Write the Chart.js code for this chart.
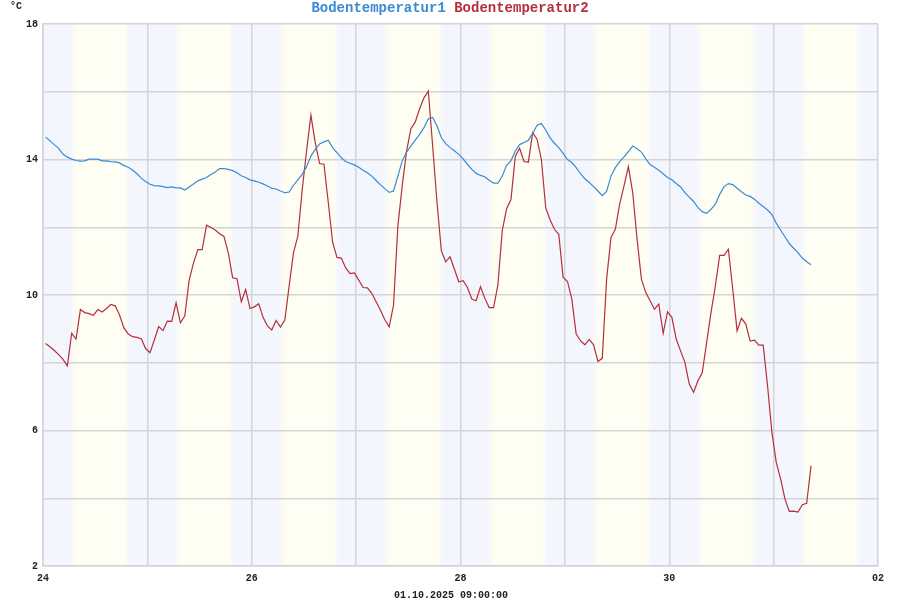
<!DOCTYPE html>
<html>
<head>
<meta charset="utf-8">
<script src="https://cdn.jsdelivr.net/npm/chart.js@4.4.1/dist/chart.umd.min.js"></script>
<style>
  html, body { margin: 0; padding: 0; background: #fff; }
  #wrap { width: 900px; height: 600px; position: relative; }
</style>
</head>
<body>
<div id="wrap"><canvas id="boden"></canvas></div>
<script>
// hourly readings, first one at 24.09. 00:36
const firstHour = 0.6;
const stepHours = 1;

const seriesNames = ['Bodentemperatur1', 'Bodentemperatur2'];
const stamp = '01.10.2025 09:00:00';
const unit = '\u00b0C';

const boden1 = [
  14.66,14.55,14.44,14.33,14.16,14.07,14.01,13.97,13.95,13.96,
  14.01,14.01,14.01,13.96,13.96,13.94,13.93,13.90,13.82,13.77,
  13.69,13.58,13.45,13.35,13.27,13.23,13.22,13.20,13.17,13.19,
  13.16,13.16,13.10,13.19,13.28,13.37,13.42,13.47,13.56,13.63,
  13.73,13.73,13.71,13.67,13.61,13.52,13.47,13.40,13.37,13.33,
  13.28,13.22,13.15,13.13,13.07,13.02,13.04,13.24,13.40,
  13.56,13.79,14.10,14.30,14.46,14.52,14.57,14.35,14.20,14.05,
  13.94,13.89,13.84,13.77,13.68,13.61,13.51,13.38,13.25,13.14,
  13.03,13.07,13.51,13.96,14.22,14.40,14.57,14.74,14.94,15.20,
  15.24,14.99,14.64,14.47,14.35,14.26,14.15,14.02,13.86,13.71,
  13.59,13.53,13.49,13.39,13.30,13.30,13.51,13.83,13.96,14.25,
  14.44,14.50,14.57,14.77,15.01,15.06,14.87,14.64,14.48,
  14.35,14.18,14.00,13.91,13.76,13.58,13.43,13.32,13.20,13.07,
  12.93,13.06,13.51,13.76,13.94,14.08,14.23,14.40,14.32,14.22,
  14.02,13.85,13.77,13.68,13.58,13.47,13.40,13.29,13.19,13.02,
  12.89,12.76,12.58,12.46,12.41,12.53,12.68,12.97,13.20,13.29,
  13.26,13.15,13.05,12.95,12.91,12.83,12.71,12.61,12.51,12.38,
  12.12,11.92,11.72,11.52,11.38,11.25,11.09,10.98,10.89
];

const boden2 = [
  8.57,8.47,8.36,8.24,8.10,7.91,8.87,8.70,9.57,9.48,
  9.45,9.40,9.57,9.50,9.60,9.72,9.68,9.41,9.03,8.85,
  8.77,8.75,8.71,8.42,8.30,8.67,9.07,8.95,9.23,9.22,
  9.77,9.18,9.38,10.43,10.94,11.34,11.34,12.06,11.99,11.92,
  11.81,11.73,11.25,10.51,10.48,9.80,10.16,9.60,9.65,9.74,
  9.34,9.09,8.97,9.25,9.05,9.26,10.27,11.25,11.74,
  13.10,14.25,15.31,14.50,13.88,13.86,12.73,11.55,11.11,11.09,
  10.80,10.63,10.65,10.44,10.22,10.21,10.05,9.80,9.55,9.27,
  9.06,9.70,12.04,13.22,14.25,14.91,15.11,15.50,15.82,16.02,
  14.40,12.73,11.30,10.98,11.13,10.76,10.39,10.42,10.22,9.88,
  9.83,10.25,9.90,9.63,9.63,10.30,11.90,12.55,12.82,14.09,
  14.33,13.94,13.92,14.79,14.60,14.00,12.57,12.22,11.94,
  11.79,10.52,10.40,9.88,8.85,8.65,8.53,8.69,8.53,8.04,
  8.13,10.47,11.70,11.94,12.68,13.22,13.79,13.02,11.65,10.47,
  10.07,9.83,9.58,9.73,8.87,9.50,9.34,8.70,8.35,8.01,
  7.37,7.13,7.47,7.71,8.60,9.48,10.27,11.17,11.17,11.35,
  10.17,8.94,9.31,9.14,8.64,8.67,8.52,8.52,7.32,5.95,
  5.06,4.57,3.98,3.61,3.62,3.59,3.81,3.85,4.96
];

const firstDay = 24;     // 24.09.
const monthDays = 30;
const totalHours = 192;  // 8 days on the axis
const yMin = 2, yMax = 18;

// day light band (hours of the day): dawn and dusk
const dawn = [6.2, 7.8];
const dusk = [18.8, 20.0];

const colBlue = '#3a8ad4';
const colRed = '#b52f3a';
const nightCol = '#f4f6fd';
const dayCol = '#fefef3';
const gridCol = '#d3d3d8';
const monoFont = '"Liberation Mono", "DejaVu Sans Mono", monospace';

function toPoints(vals) {
  return vals.map((v, i) => ({ x: firstHour + i * stepHours, y: v }));
}

// pale blue nights and pale yellow days behind the plot
const bands = {
  id: 'bands',
  beforeDraw(chart) {
    const { ctx, chartArea: a, scales: { x } } = chart;
    const g = ctx.createLinearGradient(a.left, 0, a.right, 0);
    const span = totalHours;
    for (let d = 0; d < 8; d++) {
      const h = d * 24;
      g.addColorStop(Math.min(1, (h + dawn[0]) / span), nightCol);
      g.addColorStop(Math.min(1, (h + dawn[1]) / span), dayCol);
      g.addColorStop(Math.min(1, (h + dusk[0]) / span), dayCol);
      g.addColorStop(Math.min(1, (h + dusk[1]) / span), nightCol);
    }
    g.addColorStop(0, nightCol);
    ctx.save();
    ctx.fillStyle = g;
    ctx.fillRect(a.left, a.top, a.right - a.left, a.bottom - a.top);
    ctx.restore();
  }
};

// titles: series names on top, unit and time stamp
const texts = {
  id: 'texts',
  afterDraw(chart) {
    const ctx = chart.ctx;
    ctx.save();
    ctx.textBaseline = 'middle';
    ctx.font = 'bold 14px ' + monoFont;
    const sep = ' ';
    const w1 = ctx.measureText(seriesNames[0]).width;
    const ws = ctx.measureText(sep).width;
    const w2 = ctx.measureText(seriesNames[1]).width;
    let x0 = 450 - (w1 + ws + w2) / 2;
    ctx.textAlign = 'left';
    ctx.fillStyle = colBlue;
    ctx.fillText(seriesNames[0], x0, 8);
    ctx.fillStyle = colRed;
    ctx.fillText(seriesNames[1], x0 + w1 + ws, 8);

    ctx.font = 'bold 10px ' + monoFont;
    ctx.fillStyle = '#222';
    ctx.fillText(unit, 10, 6);
    ctx.textAlign = 'center';
    ctx.fillText(stamp, 451, 595);
    ctx.restore();
  }
};

const tickFont = { family: monoFont, size: 10, weight: 'bold' };

new Chart(document.getElementById('boden'), {
  type: 'line',
  data: {
    datasets: [
      {
        label: seriesNames[0],
        data: toPoints(boden1),
        borderColor: colBlue,
        borderWidth: 1.2,
        pointRadius: 0,
        tension: 0,
        fill: false
      },
      {
        label: seriesNames[1],
        data: toPoints(boden2),
        borderColor: colRed,
        borderWidth: 1.2,
        pointRadius: 0,
        tension: 0,
        fill: false
      }
    ]
  },
  options: {
    responsive: true,
    maintainAspectRatio: false,
    animation: false,
    layout: { padding: { top: 24, right: 22, left: 0, bottom: 0 } },
    plugins: {
      legend: { display: false },
      tooltip: { enabled: false }
    },
    scales: {
      x: {
        type: 'linear',
        min: 0,
        max: totalHours,
        afterFit(s) { s.height = 34; },
        grid: { color: gridCol, lineWidth: 1.5, drawTicks: false },
        border: { color: gridCol, width: 1.5 },
        ticks: {
          stepSize: 24,
          autoSkip: false,
          maxRotation: 0,
          padding: 6,
          color: '#222',
          font: tickFont,
          callback(v) {
            if (v % 48 !== 0) return '';
            let d = firstDay + v / 24;
            if (d > monthDays) d -= monthDays;
            return String(d).padStart(2, '0');
          }
        }
      },
      y: {
        min: yMin,
        max: yMax,
        afterFit(s) { s.width = 43; },
        grid: { color: gridCol, lineWidth: 1.5, drawTicks: false },
        border: { color: gridCol, width: 1.5 },
        ticks: {
          stepSize: 2,
          padding: 5,
          color: '#222',
          font: tickFont,
          callback(v) { return (v - yMin) % 4 === 0 ? v : ''; }
        }
      }
    }
  },
  plugins: [bands, texts]
});
</script>
</body>
</html>
